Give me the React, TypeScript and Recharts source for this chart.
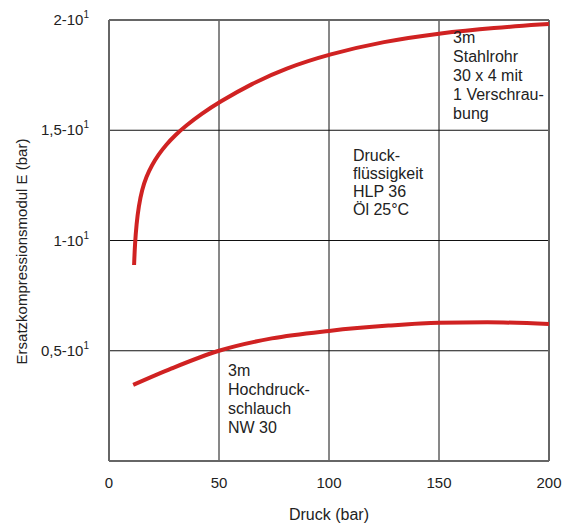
import React from "react";
import {
  LineChart,
  Line,
  XAxis,
  YAxis,
  CartesianGrid,
  ReferenceLine,
  ReferenceDot,
  Label,
} from "recharts";

// Druck (bar) values and Ersatzkompressionsmodul (×10^1 bar)
const steelX = [11.4, 11.8, 12.5, 13.5, 15, 17, 19.5, 22.5, 26, 30, 35, 42, 50, 65, 80, 100, 125, 150, 175, 200];
const steelY = [0.889, 0.984, 1.075, 1.155, 1.23, 1.29, 1.342, 1.39, 1.435, 1.477, 1.521, 1.574, 1.627, 1.712, 1.78, 1.845, 1.903, 1.94, 1.965, 1.982];

const hoseX = [11, 28.5, 50, 74, 100, 127, 150, 172, 200];
const hoseY = [0.345, 0.42, 0.5, 0.556, 0.59, 0.614, 0.627, 0.629, 0.621];

const xTicks = [0, 50, 100, 150, 200];
const yTicks = [0.5, 1, 1.5, 2];
const yTickLabels = ["0,5-10", "1-10", "1,5-10", "2-10"];

const steelNote = ["3m", "Stahlrohr", "30 x 4 mit", "1 Verschrau-", "bung"];
const fluidNote = ["Druck-", "flüssigkeit", "HLP 36", "Öl 25°C"];
const hoseNote = ["3m", "Hochdruck-", "schlauch", "NW 30"];

const steelData = steelX.map((x, i) => ({ x, y: steelY[i] }));
const hoseData = hoseX.map((x, i) => ({ x, y: hoseY[i] }));

const FONT = "'Liberation Sans', Arial, Helvetica, sans-serif";
const RED = "#d02222";
const TEXT = "#222";

const YTick = (props: any) => {
  const { x, y, payload } = props;
  const idx = yTicks.indexOf(payload.value);
  const label = idx >= 0 ? yTickLabels[idx] : "";
  return (
    <text x={x - 12} y={y + 5} textAnchor="end" fontFamily={FONT} fontSize={15} fill={TEXT}>
      {label}
      <tspan fontSize={10} dy={-7}>1</tspan>
    </text>
  );
};

const XTick = (props: any) => {
  const { x, y, payload } = props;
  return (
    <text x={x} y={y + 19} textAnchor="middle" fontFamily={FONT} fontSize={15} fill={TEXT}>
      {payload.value}
    </text>
  );
};

const YTitle = (props: any) => {
  const vb = props.viewBox || {};
  const cy = (vb.y || 0) + (vb.height || 0) / 2 + 11;
  return (
    <text
      transform={`translate(27, ${cy}) rotate(-90)`}
      textAnchor="middle"
      fontFamily={FONT}
      fontSize={15}
      fill={TEXT}
    >
      Ersatzkompressionsmodul E (bar)
    </text>
  );
};

const note = (lines: string[], lh: number) => (p: any) => {
  const { cx, cy } = p;
  return (
    <text x={cx} y={cy + 6} fontFamily={FONT} fontSize={16} fill={TEXT}>
      {lines.map((l, i) => (
        <tspan key={i} x={cx} dy={i === 0 ? 0 : lh}>
          {l}
        </tspan>
      ))}
    </text>
  );
};

export default function App() {
  return (
    <div style={{ position: "absolute", left: 0, top: 0, background: "#fff" }}>
      <LineChart width={563} height={525} margin={{ top: 20, right: 14, left: 0, bottom: 0 }}>
        <CartesianGrid stroke="#111" strokeWidth={1} horizontalValues={[0.5, 1, 1.5]} verticalValues={[50, 100, 150]} />
        <XAxis
          type="number"
          dataKey="x"
          domain={[0, 200]}
          ticks={xTicks}
          height={64}
          tickLine={false}
          axisLine={{ stroke: "#666", strokeWidth: 2 }}
          tick={<XTick />}
          interval={0}
        >
          <Label value="Druck (bar)" position="insideBottom" offset={5} fontFamily={FONT} fontSize={16} fill={TEXT} />
        </XAxis>
        <YAxis
          type="number"
          domain={[0, 2]}
          ticks={yTicks}
          width={109}
          tickLine={false}
          axisLine={{ stroke: "#666", strokeWidth: 2 }}
          tick={<YTick />}
          interval={0}
        >
          <Label content={<YTitle />} />
        </YAxis>
        <ReferenceLine y={2} stroke="#666" strokeWidth={2} />
        <ReferenceLine x={200} stroke="#666" strokeWidth={2} />
        <Line data={steelData} dataKey="y" type="basis" stroke={RED} strokeWidth={4} dot={false} isAnimationActive={false} />
        <Line data={hoseData} dataKey="y" type="monotone" stroke={RED} strokeWidth={4} dot={false} isAnimationActive={false} />
        <ReferenceDot x={156.4} y={1.923} r={1} shape={note(steelNote, 19)} />
        <ReferenceDot x={110.9} y={1.388} r={1} shape={note(fluidNote, 18)} />
        <ReferenceDot x={54.1} y={0.413} r={1} shape={note(hoseNote, 19)} />
      </LineChart>
    </div>
  );
}
